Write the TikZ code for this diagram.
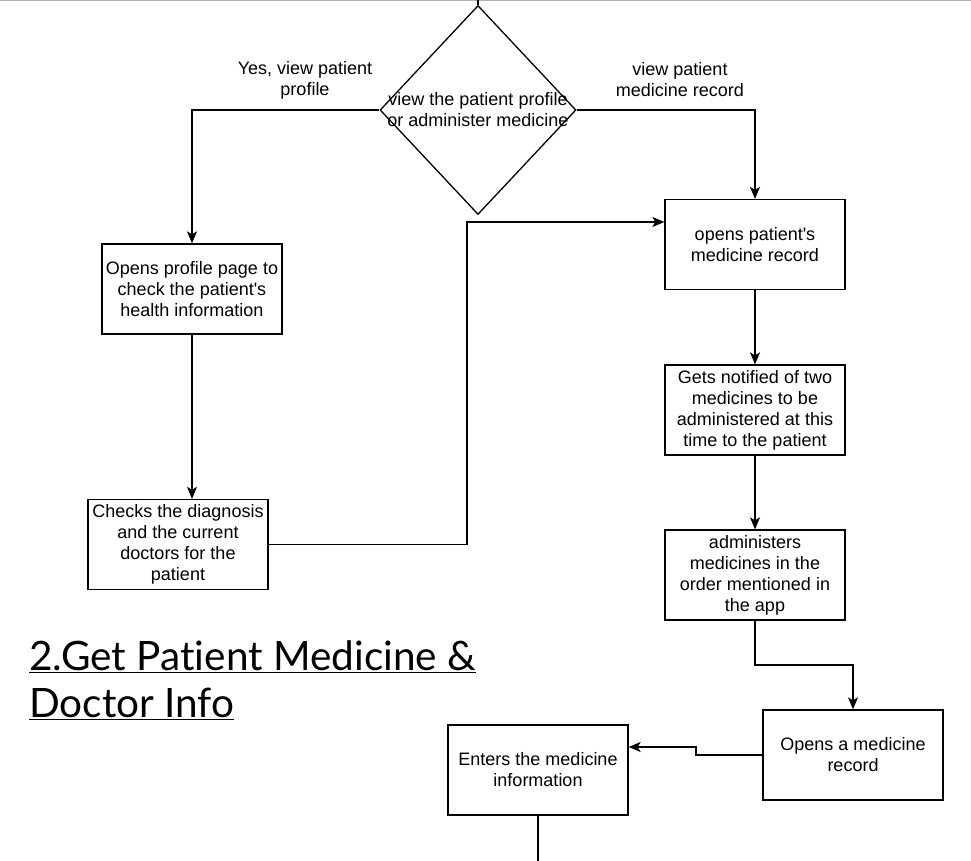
\documentclass[tikz,border=0pt]{standalone}
\usepackage{fontspec}
\setmainfont{Liberation Sans}
\newfontfamily\bodyfont{Liberation Sans}
\newfontfamily\titlefont[Ligatures=NoCommon]{Lato}
\usetikzlibrary{shapes.geometric,arrows.meta}
\begin{document}
\begin{tikzpicture}[x=1pt,y=-1pt,
  box/.style={draw,line width=1.3pt,minimum width=180pt,minimum height=90pt,inner sep=0pt,align=center,font=\bodyfont\fontsize{18}{21}\selectfont},
  lbl/.style={align=center,font=\bodyfont\fontsize{18}{21}\selectfont},
  conn/.style={line width=1.3pt,-{Stealth[length=12pt,width=10pt,inset=3pt]}}]
\useasboundingbox (0,0) rectangle (971,861);
\draw[gray!60,line width=1.5pt] (0,0.5) -- (971,0.5);
\node[draw,diamond,line width=1.3pt,minimum width=196pt,minimum height=209pt,inner sep=0pt,aspect=0.94] (d) at (478,110) {};
\node[lbl] (dt) at (478,110) {view the patient profile\\or administer medicine};
\draw[line width=1.3pt] (478,0) -- (d.north);
\node[box] (b1) at (755,244.5) {opens patient's\\medicine record};
\node[box] (b2) at (192,289) {Opens profile page to\\check the patient's\\health information};
\node[box] (b3) at (178,544.5) {Checks the diagnosis\\and the current\\doctors for the\\patient};
\node[box] (b4) at (755,410) {Gets notified of two\\medicines to be\\administered at this\\time to the patient};
\node[box] (b5) at (755,575) {administers\\medicines in the\\order mentioned in\\the app};
\node[box] (b6) at (853,755) {Opens a medicine\\record};
\node[box] (b7) at (538,770) {Enters the medicine\\information};
\node[lbl] (l1) at (305,80) {Yes, view patient\\profile};
\node[lbl] (l2) at (680,80) {view patient\\medicine record};
\coordinate (c3) at (467,0);
\coordinate (e7) at (538,861);
\draw[conn] (d.west) -| (b2.north);
\draw[conn] (d.east) -| (b1.north);
\draw[conn] (b2.south) -- (b2.south |- b3.north);
\draw[conn] (b3.east) -- (b3.east -| c3) |- ([yshift=22.5pt]b1.west);
\draw[conn] (b1.south) -- (b4.north);
\draw[conn] (b4.south) -- (b5.north);
\draw[conn] (b5.south) -- (755,665) -| (b6.north);
\draw[conn] (b6.west) -- (696,755) -- (696,747) -- ([yshift=23pt]b7.east);
\draw[line width=1.3pt] (b7.south) -- (e7);
\node[anchor=base west,inner sep=0pt,font=\titlefont\fontsize{40.5}{47}\selectfont] (t1) at (29,670) {\underline{2.Get Patient Medicine \&}};
\node[anchor=base west,inner sep=0pt,font=\titlefont\fontsize{40.5}{47}\selectfont] (t2) at (29,717) {\underline{Doctor Info}};
\end{tikzpicture}
\end{document}
